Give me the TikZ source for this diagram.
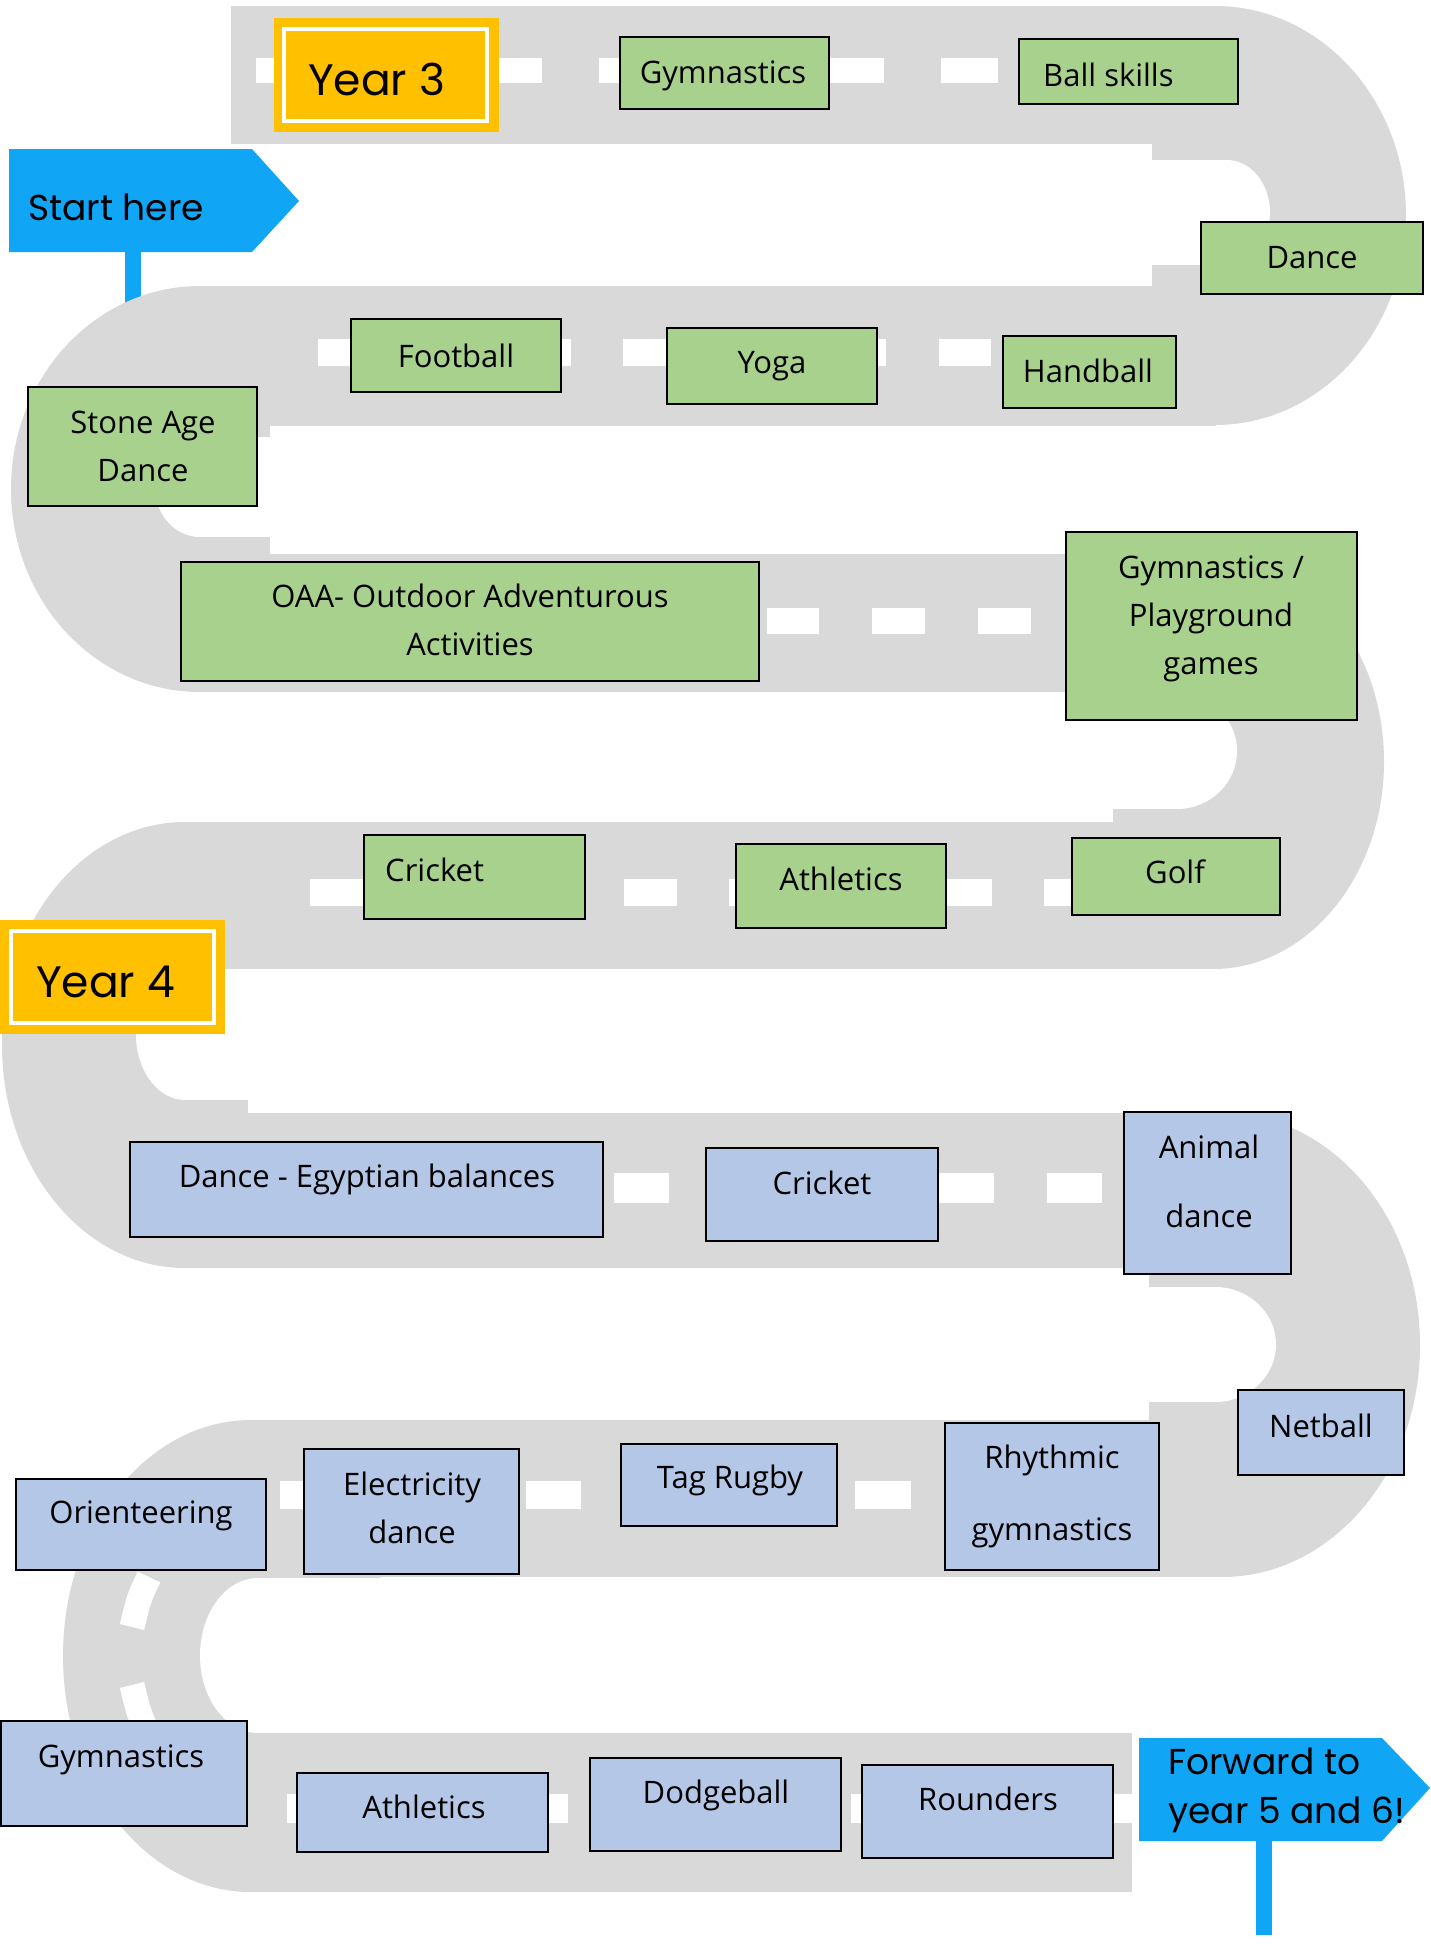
\documentclass[tikz,border=0pt]{standalone}
\usepackage{fontspec}
\newfontfamily\comicf{Open Sans}
\newfontfamily\gothicf{Poppins}
\definecolor{roadgray}{HTML}{D9D9D9}
\definecolor{boxgreen}{HTML}{A9D18E}
\definecolor{boxblue}{HTML}{B4C7E7}
\definecolor{yearorange}{HTML}{FFC000}
\definecolor{signblue}{RGB}{17,165,245}
\tikzset{
  road/.style={fill=roadgray},
  lane/.style={fill=white},
  gbox/.style={draw=black, line width=1.5pt, fill=boxgreen, inner sep=0pt, outer sep=0pt},
  bbox/.style={draw=black, line width=1.5pt, fill=boxblue, inner sep=0pt, outer sep=0pt},
  yearbox/.style={fill=yearorange, inner sep=0pt, minimum width=225pt, minimum height=114pt},
  yearline/.style={draw=white, line width=4pt, inner sep=0pt, minimum width=203pt, minimum height=92pt},
  txt/.style={inner sep=0pt, font=\comicf\fontsize{31}{48}\selectfont, align=center},
  gtxt/.style={inner sep=0pt, font=\gothicf\fontsize{44}{53}\selectfont},
  stxt/.style={inner sep=0pt, font=\gothicf\fontsize{36}{49}\selectfont, align=left},
  sign/.style={fill=signblue}
}
\begin{document}
\begin{tikzpicture}[x=1pt,y=-1pt]
\useasboundingbox[fill=white] (0,0) rectangle (1431,1944);

% sign poles
\fill[sign] (125,250) rectangle (141,315);
\fill[sign] (1256,1839) rectangle (1272,1935);

% ---------- road ----------
% row 1 + curve A
\fill[road] (231,6) rectangle (1216,144);
\fill[road] (1152,6) rectangle (1216,425);
\begin{scope}\clip (1215,0) rectangle (1431,440);
\fill[road] (1215,215.5) ellipse [x radius=191pt, y radius=209.5pt];\end{scope}
\fill[lane] (1152,160) rectangle (1228,265);
\begin{scope}\clip (1227,150) rectangle (1300,280);
\fill[lane] (1227,212.5) ellipse [x radius=43pt, y radius=52.5pt];\end{scope}
% row 2 + curve B
\fill[road] (200,286) rectangle (1216,426);
\fill[road] (199,286) rectangle (270,692);
\begin{scope}\clip (0,280) rectangle (200,700);
\fill[road] (200,489) ellipse [x radius=189pt, y radius=203pt];\end{scope}
\fill[lane] (199,437) rectangle (271,537);
\begin{scope}\clip (140,430) rectangle (200,545);
\fill[lane] (200,487) ellipse [x radius=45pt, y radius=50pt];\end{scope}
% row 3 + curve C
\fill[road] (200,554) rectangle (1214,692);
\fill[road] (1113,554) rectangle (1214,969);
\begin{scope}\clip (1213,540) rectangle (1431,980);
\fill[road] (1213,761.5) ellipse [x radius=171pt, y radius=207.5pt];\end{scope}
\fill[lane] (1112,693) rectangle (1178,809);
\begin{scope}\clip (1177,685) rectangle (1250,815);
\fill[lane] (1177,751) ellipse [x radius=60pt, y radius=58pt];\end{scope}
% row 4 + curve D
\fill[road] (184,822) rectangle (1214,969);
\fill[road] (184,822) rectangle (248,1268);
\begin{scope}\clip (0,815) rectangle (185,1275);
\fill[road] (185,1045) ellipse [x radius=183pt, y radius=223pt];\end{scope}
\fill[lane] (184,969) rectangle (249,1100);
\begin{scope}\clip (130,965) rectangle (185,1105);
\fill[lane] (185,1034.5) ellipse [x radius=49pt, y radius=65.5pt];\end{scope}
% row 5 + curve E
\fill[road] (184,1113) rectangle (1223,1268);
\fill[road] (1149,1113) rectangle (1223,1577);
\begin{scope}\clip (1222,1100) rectangle (1431,1590);
\fill[road] (1222,1345) ellipse [x radius=198pt, y radius=232pt];\end{scope}
\fill[lane] (1148,1287) rectangle (1216,1402);
\begin{scope}\clip (1215,1280) rectangle (1290,1410);
\fill[lane] (1215,1344.5) ellipse [x radius=61pt, y radius=57.5pt];\end{scope}
% row 6 + curve F
\fill[road] (250,1420) rectangle (1223,1577);
\fill[road] (250,1420) rectangle (381,1892);
\begin{scope}\clip (0,1410) rectangle (251,1900);
\fill[road] (251,1656) ellipse [x radius=188pt, y radius=236pt];\end{scope}
\fill[lane] (257,1578) rectangle (382,1733);
\begin{scope}\clip (190,1570) rectangle (258,1740);
\fill[lane] (258,1655.5) ellipse [x radius=58pt, y radius=77.5pt];\end{scope}
% row 7
\fill[road] (250,1733) rectangle (1132,1892);

% ---------- lane dashes ----------
\foreach \a in {256,370,485,599,713,827,941,1055}
  \fill[lane] (\a,58) rectangle ++(57,25);
\foreach \a/\b in {318/370,519/571,623/675,834/886,939/991}
  \fill[lane] (\a,339) rectangle (\b,366);
\foreach \a/\b in {767/819,872/925,978/1031}
  \fill[lane] (\a,608) rectangle (\b,634);
\foreach \a in {310,415,520,624,729,834,939,1044}
  \fill[lane] (\a,879) rectangle ++(53,27);
\foreach \a in {614,722,830,939,1047}
  \fill[lane] (\a,1173) rectangle ++(55,30);
\foreach \a/\b in {280/335,526/581,855/911}
  \fill[lane] (\a,1481) rectangle (\b,1509);
\foreach \a/\b in {287/340,515/568,851/904,1080/1132}
  \fill[lane] (\a,1794) rectangle (\b,1823);
\draw[white, line width=25pt] (149,1577) .. controls (139,1598) .. (132,1627);
\draw[white, line width=25pt] (132,1685) .. controls (139,1714) .. (149,1735);

% ---------- Year 3 ----------
\node[yearbox] (y3) at (386.5,75) {};
\node[yearline] (y3in) at (385.5,75) {};
\node[gtxt, anchor=base west] (y3t) at (308,95) {Year 3};

\node[gbox, minimum width=209pt, minimum height=72pt] (gym1) at (724.5,73) {};
\node[txt, anchor=base] (gym1t) at (723,83) {Gymnastics};
\node[gbox, minimum width=219pt, minimum height=65pt] (ball) at (1128.5,71.5) {};
\node[txt, anchor=base west] (ballt) at (1043,86) {Ball skills};
\node[gbox, minimum width=222pt, minimum height=72pt] (dance1) at (1312,258) {};
\node[txt, anchor=base] (dance1t) at (1312,268) {Dance};
\node[gbox, minimum width=210pt, minimum height=73pt] (foot) at (456,355.5) {};
\node[txt, anchor=base] (foott) at (456,367) {Football};
\node[gbox, minimum width=210pt, minimum height=76pt] (yoga) at (772,366) {};
\node[txt, anchor=base] (yogat) at (772,373) {Yoga};
\node[gbox, minimum width=173pt, minimum height=72pt] (hand) at (1089.5,372) {};
\node[txt, anchor=base] (handt) at (1088,382) {Handball};
\node[gbox, minimum width=229pt, minimum height=119pt] (stone) at (142.5,446.5) {};
\node[txt, anchor=base] (stonet) at (143,481) {Stone Age\\Dance};
\node[gbox, minimum width=578pt, minimum height=119pt] (oaa) at (470,621.5) {};
\node[txt, anchor=base] (oaat) at (470,655) {OAA- Outdoor Adventurous\\Activities};
\node[gbox, minimum width=291pt, minimum height=188pt] (gymplay) at (1211.5,626) {};
\node[txt, anchor=base] (gymplayt) at (1211,674) {Gymnastics /\\Playground\\games};
\node[gbox, minimum width=221pt, minimum height=84pt] (cricket1) at (474.5,877) {};
\node[txt, anchor=base west] (cricket1t) at (385,881) {Cricket};
\node[gbox, minimum width=210pt, minimum height=84pt] (ath1) at (841,886) {};
\node[txt, anchor=base] (ath1t) at (841,890) {Athletics};
\node[gbox, minimum width=208pt, minimum height=77pt] (golf) at (1176,876.5) {};
\node[txt, anchor=base] (golft) at (1175,883) {Golf};

% ---------- Year 4 ----------
\node[yearbox] (y4) at (112.5,977) {};
\node[yearline] (y4in) at (112.5,977) {};
\node[gtxt, anchor=base west] (y4t) at (36,997) {Year 4};

\node[bbox, minimum width=473pt, minimum height=95pt] (danceeg) at (366.5,1189.5) {};
\node[txt, anchor=base] (danceegt) at (367,1187) {Dance - Egyptian balances};
\node[bbox, minimum width=232pt, minimum height=93pt] (cricket2) at (822,1194.5) {};
\node[txt, anchor=base] (cricket2t) at (822,1194) {Cricket};
\node[bbox, minimum width=167pt, minimum height=162pt] (animal) at (1207.5,1193) {};
\node[txt, anchor=base] (animalt) at (1209,1227) {Animal\\[21pt]dance};
\node[bbox, minimum width=166pt, minimum height=85pt] (net) at (1321,1432.5) {};
\node[txt, anchor=base] (nett) at (1321,1437) {Netball};
\node[bbox, minimum width=214pt, minimum height=147pt] (rhythm) at (1052,1496.5) {};
\node[txt, anchor=base] (rhythmt) at (1052,1540) {Rhythmic\\[24pt]gymnastics};
\node[bbox, minimum width=216pt, minimum height=82pt] (tag) at (729,1485) {};
\node[txt, anchor=base] (tagt) at (730,1488) {Tag Rugby};
\node[bbox, minimum width=215pt, minimum height=125pt] (elec) at (411.5,1511.5) {};
\node[txt, anchor=base] (elect) at (412,1543) {Electricity\\dance};
\node[bbox, minimum width=250pt, minimum height=91pt] (orient) at (141,1524.5) {};
\node[txt, anchor=base] (orientt) at (141,1523) {Orienteering};
\node[bbox, minimum width=246pt, minimum height=105pt] (gym2) at (124,1773.5) {};
\node[txt, anchor=base] (gym2t) at (121,1767) {Gymnastics};
\node[bbox, minimum width=251pt, minimum height=79pt] (ath2) at (422.5,1812.5) {};
\node[txt, anchor=base] (ath2t) at (424,1818) {Athletics};
\node[bbox, minimum width=251pt, minimum height=93pt] (dodge) at (715.5,1804.5) {};
\node[txt, anchor=base] (dodget) at (716,1803) {Dodgeball};
\node[bbox, minimum width=251pt, minimum height=93pt] (round) at (987.5,1811.5) {};
\node[txt, anchor=base] (roundt) at (988,1810) {Rounders};

% ---------- signs ----------
\fill[sign] (9,149) -- (252,149) -- (299,201) -- (252,252) -- (9,252) -- cycle;
\node[stxt, anchor=base west] (startt) at (28,220) {Start here};
\fill[sign] (1139,1738) -- (1382,1738) -- (1430,1788) -- (1382,1841) -- (1139,1841) -- cycle;
\node[stxt, anchor=base west] (fwdt) at (1168,1823) {Forward to\\year 5 and 6!};
\end{tikzpicture}
\end{document}
